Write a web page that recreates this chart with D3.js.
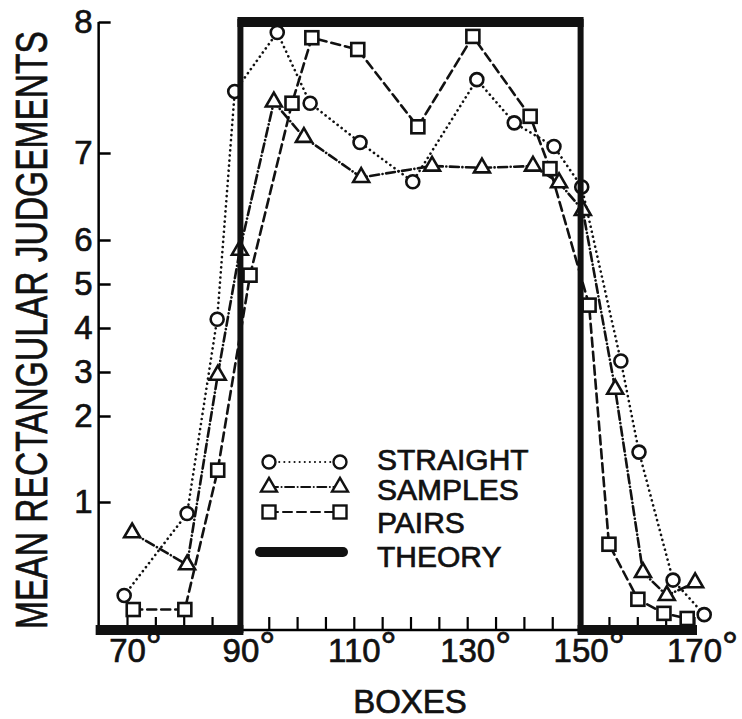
<!DOCTYPE html>
<html>
<head>
<meta charset="utf-8">
<script src="https://cdn.jsdelivr.net/npm/d3@7"></script>
<style>
  body { margin: 0; background: #fff; }
  text { font-family: "Liberation Sans", Arial, sans-serif; fill: #111; stroke: #111; stroke-width: 0.7px; }
</style>
</head>
<body>
<div id="chart"></div>
<script>
// readings: box angle (deg) and mean judgement
const straightDeg = [69.5, 80.6, 85.9, 89.0, 96.5, 102.3, 111.1, 120.4, 131.7, 138.3, 145.3, 150.2, 157.1, 160.3, 166.3, 171.8];
const straightVal = [0.27, 0.91, 4.2, 7.47, 7.92, 7.38, 7.08, 6.67, 7.56, 7.23, 7.05, 6.61, 3.25, 1.58, 0.39, 0.12];

const samplesDeg = [70.9, 80.6, 86.0, 89.9, 95.9, 101.2, 111.3, 123.8, 132.6, 141.6, 146.2, 150.4, 156.1, 161.0, 165.2, 170.2];
const samplesVal = [0.76, 0.51, 2.93, 5.77, 7.39, 7.12, 6.72, 6.85, 6.83, 6.85, 6.66, 6.34, 2.61, 0.45, 0.27, 0.37];

const pairsDeg = [71.1, 80.2, 86.0, 91.7, 99.1, 102.6, 110.7, 121.3, 131.0, 141.1, 144.6, 151.5, 155.0, 160.1, 164.7, 168.8];
const pairsVal = [0.16, 0.16, 1.37, 5.2, 7.38, 7.88, 7.79, 7.2, 7.89, 7.28, 6.82, 4.52, 0.67, 0.24, 0.13, 0.09];

const theoryDeg = [65, 90, 90, 150, 150, 170];
const theoryVal = [0, 0, 8, 8, 0, 0];

const xTicks = d3.range(70, 171, 5);
const xLabels = [70, 90, 110, 130, 150, 170];
const yTicks = [1, 2, 3, 4, 5, 6, 7, 8];
const legendNames = ["STRAIGHT", "SAMPLES", "PAIRS", "THEORY"];

const width = 742, height = 719;

const svg = d3.select("#chart").append("svg")
  .attr("width", width)
  .attr("height", height);

// x: box angle, y: odd stretched judgement scale (symmetric about 4)
const x = d3.scaleLinear().domain([70, 170]).range([127, 694]);
const y = d3.scaleLinear()
  .domain([0, 1, 2, 3, 4, 5, 6, 7, 8])
  .range([630, 502, 416, 372, 328, 284, 240, 153, 22]);

const axisLeftX = x(65);

// y axis, ticks pointing inward
const yAxis = svg.append("g")
  .attr("transform", `translate(${axisLeftX},0)`)
  .call(d3.axisLeft(y).tickValues(yTicks).tickSizeInner(-12).tickSizeOuter(0).tickPadding(6));
yAxis.select(".domain").attr("d", `M0,${y(8)}V${y(0)}`);
yAxis.selectAll("line").attr("stroke-width", 2.5);
yAxis.selectAll("text").style("font-size", "33px").style("font-family", "Liberation Sans");

// x axis
const xAxis = svg.append("g")
  .attr("transform", `translate(0,${y(0)})`)
  .call(d3.axisBottom(x).tickValues(xTicks).tickSizeInner(-13).tickSizeOuter(0)
    .tickFormat(d => xLabels.includes(d) ? d : ""));
xAxis.select(".domain").attr("d", `M${axisLeftX},0H${x(170)}`);
xAxis.selectAll("line").attr("stroke-width", 2.2);
xAxis.selectAll("text")
  .attr("y", 32).attr("dy", 0).attr("dx", 8)
  .style("font-size", "33px").style("font-family", "Liberation Sans")
  .filter(function() { return this.textContent !== ""; })
  .append("tspan")
  .style("font-size", "40px")
  .attr("dy", -2)
  .text("°");
svg.selectAll(".domain").attr("stroke-width", 2.5);

// axis titles
svg.append("text")
  .attr("transform", `translate(47,${(30 + 630) / 2}) rotate(-90)`)
  .attr("text-anchor", "middle")
  .attr("textLength", 598)
  .attr("lengthAdjust", "spacingAndGlyphs")
  .style("font-size", "44px")
  .text("MEAN RECTANGULAR JUDGEMENTS");

svg.append("text")
  .attr("x", 410).attr("y", 713)
  .attr("text-anchor", "middle")
  .style("font-size", "33px")
  .text("BOXES");

const series = [
  { deg: straightDeg, val: straightVal, dash: "0.1,5", shape: "circle" },
  { deg: samplesDeg, val: samplesVal, dash: "9,3.5,0.1,3.5", shape: "triangle" },
  { deg: pairsDeg, val: pairsVal, dash: "9,5", shape: "square" }
];

const line = d3.line().x(d => x(d[0])).y(d => y(d[1]));

function marker(g, shape, cx, cy) {
  if (shape === "circle") {
    g.append("circle").attr("cx", cx).attr("cy", cy).attr("r", 6.5);
  } else if (shape === "triangle") {
    g.append("path").attr("d", d3.symbol(d3.symbolTriangle, 110)()).attr("transform", `translate(${cx},${cy})`);
  } else {
    g.append("rect").attr("x", cx - 6.5).attr("y", cy - 6.5).attr("width", 13).attr("height", 13);
  }
}

series.forEach(s => {
  const pts = s.deg.map((d, i) => [d, s.val[i]]);
  svg.append("path")
    .datum(pts)
    .attr("fill", "none")
    .attr("stroke", "#111")
    .attr("stroke-width", 2.6)
    .attr("stroke-linecap", "round")
    .attr("stroke-dasharray", s.dash)
    .attr("d", line);
});

series.forEach(s => {
  const g = svg.append("g").attr("fill", "#fff").attr("stroke", "#111").attr("stroke-width", 2.6);
  s.deg.forEach((d, i) => marker(g, s.shape, x(d), y(s.val[i])));
});

// theory step, drawn on top
const theoryPts = theoryDeg.map((d, i) => [d, theoryVal[i]]);
svg.append("path")
  .datum(theoryPts)
  .attr("fill", "none")
  .attr("stroke", "#111")
  .attr("stroke-width", 6)
  .attr("d", line);
for (let i = 0; i < theoryPts.length - 1; i++) {
  if (theoryPts[i][1] !== theoryPts[i + 1][1]) continue;
  svg.append("line")
    .attr("x1", x(theoryPts[i][0]) - 3).attr("x2", x(theoryPts[i + 1][0]) + 3)
    .attr("y1", y(theoryPts[i][1])).attr("y2", y(theoryPts[i][1]))
    .attr("stroke", "#111").attr("stroke-width", 10);
}

// legend
const legX1 = 269, legX2 = 340;
const rowY = [462, 487, 512, 552];
const textY = [470, 500, 533, 567];
series.forEach((s, i) => {
  svg.append("line")
    .attr("x1", legX1).attr("x2", legX2).attr("y1", rowY[i]).attr("y2", rowY[i])
    .attr("stroke", "#111").attr("stroke-width", 2)
    .attr("stroke-linecap", "round")
    .attr("stroke-dasharray", s.dash);
  const g = svg.append("g").attr("fill", "#fff").attr("stroke", "#111").attr("stroke-width", 2.4);
  marker(g, s.shape, legX1, rowY[i]);
  marker(g, s.shape, legX2, rowY[i]);
});
svg.append("line")
  .attr("x1", 260).attr("x2", 343).attr("y1", rowY[3]).attr("y2", rowY[3])
  .attr("stroke", "#111").attr("stroke-width", 10).attr("stroke-linecap", "round");

legendNames.forEach((n, i) => {
  svg.append("text")
    .attr("x", 377).attr("y", textY[i])
    .style("font-size", "30px")
    .text(n);
});
</script>
</body>
</html>
